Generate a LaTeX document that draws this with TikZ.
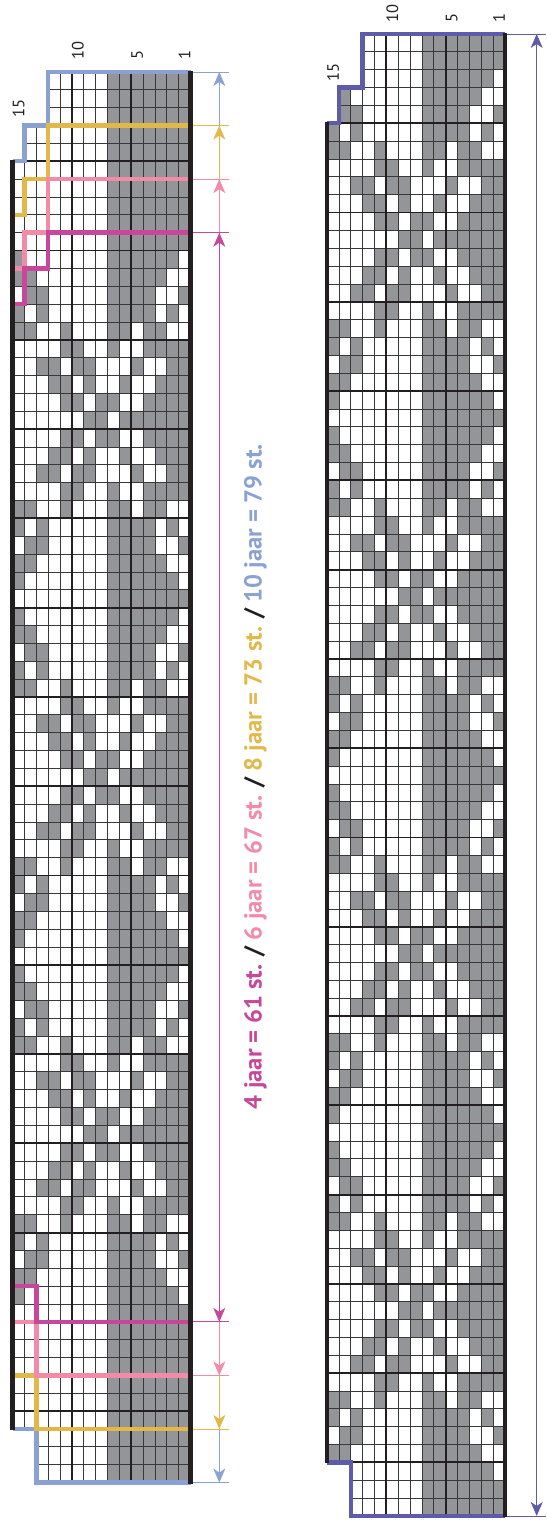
\documentclass[tikz,border=0pt]{standalone}
\usepackage{fontspec}
\setsansfont{PT Sans}
\usetikzlibrary{arrows.meta}

\definecolor{cgray}{HTML}{939598}
\definecolor{cblk}{HTML}{231F20}
\definecolor{cblue}{HTML}{8AA2D3}
\definecolor{cyel}{HTML}{E2B84B}
\definecolor{cpink}{HTML}{F28BA8}
\definecolor{cmag}{HTML}{C7489B}
\definecolor{cpur}{HTML}{5E5BA8}

% gray columns for each distance d from a star centre
\expandafter\def\csname pd0\endcsname{1,2,3,4,5,6,8,9}
\expandafter\def\csname pd1\endcsname{1,2,3,4,7,8,10,11}
\expandafter\def\csname pd2\endcsname{1,2,3,6,9,11,12}
\expandafter\def\csname pd3\endcsname{1,2,5,9,10,12,13}
\expandafter\def\csname pd4\endcsname{1,2,3,4,7,10,11}
\expandafter\def\csname pd5\endcsname{3,4,6,7,11,14,15}
\expandafter\def\csname pd6\endcsname{2,4,5,6,7,13,15}
\expandafter\def\csname pd7\endcsname{1,4,5,6,7,13,14}
\expandafter\def\csname pd8\endcsname{3,4,5,6,7,14,15}
\expandafter\def\csname pd9\endcsname{2,3,4,5,6,7,15}
\expandafter\def\csname pd10\endcsname{1,2,3,4,5,6,7}

\def\cw{11.86}
\def\ch{17.855}

% #1 right x, #2 top y, #3 rows, #4 star row, #5 first patterned row, #6 last patterned row
\newcommand\knitchart[6]{%
  \foreach \rr in {1,...,#3} {
    \pgfmathtruncatemacro\nc{\rr<=3 ? 12 : (\rr<=5 ? 14 : (\rr>#3-3 ? 13 : 15))}
    \pgfmathtruncatemacro\mm{mod(\rr-#4+100,20)}
    \pgfmathtruncatemacro\dd{(\rr<#5 || \rr>#6) ? 10 : min(\mm,20-\mm)}
    \edef\lst{\csname pd\dd\endcsname}
    \foreach \cc in \lst {
      \ifnum\cc>\nc\relax\else
        \fill[cgray] ({#1-\cc*\cw},{#2+(\rr-1)*\ch}) rectangle ++(\cw,\ch);
      \fi
    }
    \foreach \cc in {1,...,\nc} {
      \draw[gridthin] ({#1-\cc*\cw},{#2+(\rr-1)*\ch}) rectangle ++(\cw,\ch);
    }
  }
  \pgfmathtruncatemacro\nk{floor((#3-1)/5)}
  \foreach \k in {1,...,\nk} {
    \draw[gridthick] ({#1-15*\cw},{#2+5*\k*\ch}) -- ({#1},{#2+5*\k*\ch});
  }
  \draw[gridthick] ({#1-5*\cw},{#2}) -- ({#1-5*\cw},{#2+#3*\ch});
  \draw[gridthick] ({#1-10*\cw},{#2}) -- ({#1-10*\cw},{#2+#3*\ch});
}

\begin{document}
\begin{tikzpicture}[x=1pt,y=-1pt,
  gridthin/.style={draw=black!78,line width=0.8pt},
  gridthick/.style={draw=cblk,line width=1.9pt},
  outl/.style={line width=4.4pt,line join=miter},
  edge/.style={draw=cblk,line width=4.3pt},
  extl/.style={line width=0.9pt},
  dimln/.style={line width=1pt,{Stealth[length=14pt,width=12pt,inset=4pt]}-{Stealth[length=14pt,width=12pt,inset=4pt]}},
  lbl/.style={rotate=90,anchor=west,inner sep=0pt,font=\sffamily\fontsize{16.5}{16.5}\selectfont,text=cblk}]
\useasboundingbox (0,0) rectangle (546,1522);

\def\xL{190.5}\def\yL{72}
\def\xR{505}\def\yR{34}

% ---------- left chart ----------
\knitchart{\xL}{\yL}{79}{20}{10}{70}
% ---------- right chart ----------
\knitchart{\xR}{\yR}{83}{12}{2}{82}

% outlines left chart
\draw[outl,cblue] ({\xL},{\yL}) -- ({\xL-12*\cw},{\yL}) -- ({\xL-12*\cw},{\yL+3*\ch}) -- ({\xL-14*\cw},{\yL+3*\ch}) -- ({\xL-14*\cw},{\yL+5*\ch}) -- ({\xL-15*\cw},{\yL+5*\ch});
\draw[outl,cblue] ({\xL-15*\cw},{\yL+76*\ch}) -- ({\xL-13*\cw},{\yL+76*\ch}) -- ({\xL-13*\cw},{\yL+79*\ch}) -- ({\xL},{\yL+79*\ch});
\draw[outl,cyel] ({\xL},{\yL+3*\ch}) -- ({\xL-12*\cw},{\yL+3*\ch}) -- ({\xL-12*\cw},{\yL+6*\ch}) -- ({\xL-14*\cw},{\yL+6*\ch}) -- ({\xL-14*\cw},{\yL+8*\ch}) -- ({\xL-15*\cw},{\yL+8*\ch});
\draw[outl,cyel] ({\xL-15*\cw},{\yL+73*\ch}) -- ({\xL-13*\cw},{\yL+73*\ch}) -- ({\xL-13*\cw},{\yL+76*\ch}) -- ({\xL},{\yL+76*\ch});
\draw[outl,cpink] ({\xL},{\yL+6*\ch}) -- ({\xL-12*\cw},{\yL+6*\ch}) -- ({\xL-12*\cw},{\yL+9*\ch}) -- ({\xL-14*\cw},{\yL+9*\ch}) -- ({\xL-14*\cw},{\yL+11*\ch}) -- ({\xL-15*\cw},{\yL+11*\ch});
\draw[outl,cpink] ({\xL-15*\cw},{\yL+70*\ch}) -- ({\xL-13*\cw},{\yL+70*\ch}) -- ({\xL-13*\cw},{\yL+73*\ch}) -- ({\xL},{\yL+73*\ch});
\draw[outl,cmag] ({\xL},{\yL+9*\ch}) -- ({\xL-12*\cw},{\yL+9*\ch}) -- ({\xL-12*\cw},{\yL+11*\ch}) -- ({\xL-14*\cw},{\yL+11*\ch}) -- ({\xL-14*\cw},{\yL+13*\ch}) -- ({\xL-15*\cw},{\yL+13*\ch});
\draw[outl,cmag] ({\xL-15*\cw},{\yL+68*\ch}) -- ({\xL-13*\cw},{\yL+68*\ch}) -- ({\xL-13*\cw},{\yL+70*\ch}) -- ({\xL},{\yL+70*\ch});
\draw[edge] ({\xL},{\yL-1}) -- ({\xL},{\yL+79*\ch+1});
\draw[edge] ({\xL-15*\cw},{\yL+5*\ch-1}) -- ({\xL-15*\cw},{\yL+76*\ch+1});

% outlines right chart
\draw[outl,cpur] ({\xR},{\yR}) -- ({\xR-12*\cw},{\yR}) -- ({\xR-12*\cw},{\yR+3*\ch}) -- ({\xR-14*\cw},{\yR+3*\ch}) -- ({\xR-14*\cw},{\yR+5*\ch}) -- ({\xR-15*\cw},{\yR+5*\ch});
\draw[outl,cpur] ({\xR-15*\cw},{\yR+80*\ch}) -- ({\xR-13*\cw},{\yR+80*\ch}) -- ({\xR-13*\cw},{\yR+83*\ch}) -- ({\xR},{\yR+83*\ch});
\draw[edge] ({\xR},{\yR-1}) -- ({\xR},{\yR+83*\ch+1});
\draw[edge] ({\xR-15*\cw},{\yR+5*\ch-1}) -- ({\xR-15*\cw},{\yR+80*\ch+1});

% column numbers
\node[lbl] (la1) at ({\xL-0.5*\cw},60) {1};
\node[lbl] (la5) at ({\xL-4.5*\cw},60) {5};
\node[lbl] (la10) at ({\xL-9.5*\cw},60) {10};
\node[lbl] (la15) at ({\xL-14.5*\cw},118) {15};
\node[lbl] (lb1) at ({\xR-0.5*\cw},22.5) {1};
\node[lbl] (lb5) at ({\xR-4.5*\cw},22.5) {5};
\node[lbl] (lb10) at ({\xR-9.5*\cw},22.5) {10};
\node[lbl] (lb15) at ({\xR-14.5*\cw},81.5) {15};

% dimension lines, left
\foreach \nm/\col/\ra/\rb in {b/cblue/0/79, y/cyel/3/76, p/cpink/6/73, m/cmag/9/70} {
  \coordinate (e\nm1a) at (193,{\yL+\ra*\ch});
  \coordinate (e\nm1b) at (229,{\yL+\ra*\ch});
  \coordinate (e\nm2a) at (193,{\yL+\rb*\ch});
  \coordinate (e\nm2b) at (229,{\yL+\rb*\ch});
  \draw[extl,\col] (e\nm1a) -- (e\nm1b);
  \draw[extl,\col] (e\nm2a) -- (e\nm2b);
  \coordinate (d\nm1) at (219.3,{\yL+\ra*\ch});
  \coordinate (d\nm2) at (219.3,{\yL+\rb*\ch});
  \draw[dimln,\col] (d\nm1) -- (d\nm2);
}
% dimension line, right
\coordinate (er1a) at (507,{\yR});
\coordinate (er1b) at (546,{\yR});
\coordinate (er2a) at (507,{\yR+83*\ch});
\coordinate (er2b) at (546,{\yR+83*\ch});
\draw[extl,cpur] (er1a) -- (er1b);
\draw[extl,cpur] (er2a) -- (er2b);
\coordinate (dr1) at (536.7,{\yR});
\coordinate (dr2) at (536.7,{\yR+83*\ch});
\draw[dimln,cpur] (dr1) -- (dr2);

% sizes text
\node[rotate=90,inner sep=0pt,font=\sffamily\bfseries\fontsize{24.6}{24.6}\selectfont,text=cblk] (sizes) at (255.5,776.5)
 {\textcolor{cmag}{4 jaar = 61 st.} / \textcolor{cpink}{6 jaar = 67 st.} / \textcolor{cyel}{8 jaar = 73 st.} / \textcolor{cblue}{10 jaar = 79 st.}};
\end{tikzpicture}
\end{document}
